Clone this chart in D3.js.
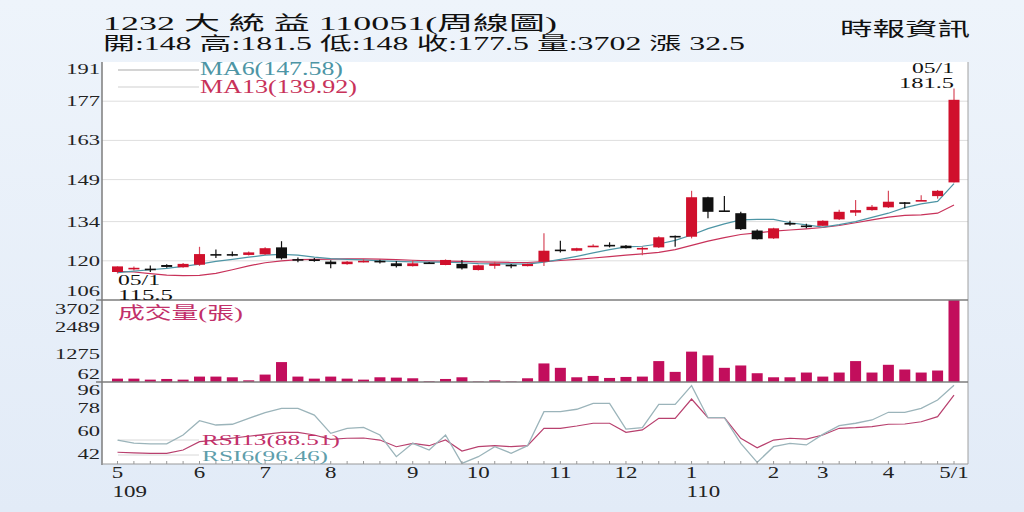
<!DOCTYPE html>
<html>
<head>
<meta charset="utf-8">
<script src="https://cdn.jsdelivr.net/npm/d3@7"></script>
<style>
html, body { margin: 0; padding: 0; background: #e9f1fa; }
svg { display: block; }
text { font-family: "Liberation Serif", "DejaVu Serif", "Noto Sans CJK TC", serif; }
</style>
</head>
<body>
<svg id="chart" width="1024" height="512"></svg>
<script>
// 週K (109/05 ~ 110/05)
const weeks = [
	'109/05/1','109/05/2','109/05/3','109/05/4','109/05/5','109/06/1','109/06/2','109/06/3','109/06/4',
	'109/07/1','109/07/2','109/07/3','109/07/4','109/08/1','109/08/2','109/08/3','109/08/4','109/08/5',
	'109/09/1','109/09/2','109/09/3','109/09/4','109/10/1','109/10/2','109/10/3','109/10/4','109/10/5',
	'109/11/1','109/11/2','109/11/3','109/11/4','109/12/1','109/12/2','109/12/3','109/12/4',
	'110/01/1','110/01/2','110/01/3','110/01/4','110/01/5','110/02/1','110/02/2','110/02/3',
	'110/03/1','110/03/2','110/03/3','110/03/4','110/04/1','110/04/2','110/04/3','110/04/4','110/05/1'
];
const opens = [
	116.0,117.2,117.2,118.5,117.7,118.6,122.4,122.4,122.1,122.3,
	124.8,120.6,120.5,119.7,118.8,119.9,120.0,119.1,118.1,119.4,
	118.5,118.9,116.7,118.2,118.6,118.1,119.7,124.0,123.6,125.2,
	125.7,125.4,124.4,124.8,128.9,128.6,142.7,138.0,137.0,130.8,
	128.0,133.5,132.6,132.5,134.8,137.2,138.1,139.1,140.9,141.6,
	143.1,148.0
];
const highs = [
	118.0,118.0,118.3,118.8,119.2,125.0,124.0,123.3,123.3,124.8,
	127.0,121.2,121.0,120.2,119.9,120.6,120.4,119.9,120.3,119.6,
	120.5,120.3,118.6,119.7,118.9,119.0,129.8,127.2,124.7,125.9,
	126.6,125.6,125.0,128.8,129.0,145.0,142.9,143.1,137.5,131.2,
	131.8,134.3,133.2,134.5,138.2,141.7,139.9,145.0,141.0,143.4,
	145.3,181.5
];
const lows = [
	115.5,116.5,116.0,117.5,117.5,118.2,121.0,121.6,121.9,122.1,
	120.5,119.5,119.7,117.3,118.6,119.4,119.0,117.6,118.0,118.9,
	118.4,116.9,116.5,117.2,117.3,118.0,118.1,123.0,123.4,124.9,
	124.8,124.4,122.0,124.6,125.0,128.0,135.2,137.5,131.0,127.6,
	127.8,132.5,131.6,132.3,134.6,136.0,137.9,138.9,138.8,141.4,
	142.2,148.0
];
const closes = [
	118.0,117.5,117.0,117.8,118.9,122.4,122.2,122.3,123.0,124.5,
	120.9,120.5,120.4,118.8,119.7,120.0,119.8,118.1,119.1,119.3,
	120.3,117.3,118.4,119.0,118.5,118.9,123.6,123.9,124.5,125.4,
	125.6,124.5,124.6,128.4,128.8,142.7,137.5,137.9,131.3,127.7,
	131.6,133.4,132.5,134.3,137.5,138.1,139.3,141.1,140.8,141.7,
	145.0,177.5
];
const ma6 = [
	115.8,116.3,116.8,117.3,118.0,118.8,119.8,120.5,121.3,122.0,
	122.3,122.0,121.3,120.8,120.5,120.3,120.0,119.8,119.6,119.5,
	119.5,119.3,119.0,118.9,118.9,118.8,119.5,120.5,121.6,122.8,
	124.0,125.0,125.2,126.0,127.3,129.2,131.5,133.2,134.6,134.8,
	134.8,133.6,132.8,132.0,132.9,134.0,135.5,137.0,139.0,140.3,
	141.2,147.58
];
const ma13 = [
	116.2,116.0,115.4,114.9,114.7,114.8,115.5,116.8,118.2,119.3,
	120.0,120.4,120.5,120.6,120.7,120.7,120.6,120.4,120.2,120.0,
	119.9,119.8,119.6,119.5,119.4,119.4,119.7,120.1,120.5,121.0,
	121.5,122.0,122.5,123.0,124.0,125.5,127.0,128.3,129.4,130.0,
	130.6,131.0,131.4,131.9,132.6,133.6,134.6,135.6,136.2,136.4,
	137.0,139.92
];
const volumes = [
	152,152,107,137,107,244,244,213,76,335,
	899,244,152,244,152,107,213,198,168,30,
	137,213,20,76,20,168,838,640,213,274,
	183,228,244,944,457,1371,1203,640,746,396,
	213,213,427,244,427,944,427,777,564,427,
	518,3702
];
const rsi6 = [
	53.0,50.5,50.0,50.0,57.0,68.3,64.9,65.5,70.2,74.7,
	78.1,78.1,72.8,58.3,62.3,63.0,57.0,39.8,50.4,45.1,
	57.0,34.5,39.8,47.7,42.5,48.5,75.5,75.5,77.4,82.1,
	82.1,61.7,62.8,81.3,81.3,96.1,70.7,70.7,50.4,35.3,
	47.7,50.4,49.1,57.5,64.4,66.3,68.9,75.0,75.0,78.1,
	84.7,96.46
];
const rsi13 = [
	43.3,42.8,42.5,42.5,45.1,51.7,53.0,54.5,56.0,57.5,
	59.0,59.0,57.0,53.5,54.4,54.6,53.0,47.7,50.4,48.5,
	53.0,44.3,47.7,48.5,47.7,48.5,62.3,62.3,64.1,66.3,
	66.3,59.1,61.0,70.2,70.2,85.5,70.7,70.7,54.4,46.9,
	53.0,54.4,53.7,57.0,62.3,62.8,63.6,65.5,65.7,67.5,
	71.5,88.51
];
const monthLabels = ['5','6','7','8','9','10','11','12','1','2','3','4','5/1'];
const yearWeeks = ['109/05/1','110/01/1'];
const yearLabels = ['109','110'];
const priceTicks = [106,120,134,149,163,177,191];
const volTicks = [62,1275,2489,3702];
const rsiTicks = [42,60,78,96];

const W = 1024, H = 512;
const L = 102, R = 968;
const pTop = 62, pBot = 300, vBot = 382, rBot = 464;
const UP = '#d0102c', DOWN = '#111';

const svg = d3.select('#chart');

// 배경
const defs = svg.append('defs');
const grad = defs.append('linearGradient').attr('id', 'bg')
	.attr('x1', 0).attr('y1', 0).attr('x2', 0).attr('y2', 1);
grad.append('stop').attr('offset', '0%').attr('stop-color', '#eef4fb');
grad.append('stop').attr('offset', '100%').attr('stop-color', '#e2ebf7');
svg.append('rect').attr('width', W).attr('height', H).attr('fill', 'url(#bg)');
svg.append('rect').attr('x', L).attr('y', pTop).attr('width', R - L).attr('height', rBot - pTop).attr('fill', '#fff');

// scales
const x = d3.scalePoint().domain(weeks).range([117.5, 954]);
const yP = d3.scaleLinear().domain([106, 191]).range([pBot, pTop]);
const yV = d3.scaleLinear().domain([0, 3702]).range([vBot, pBot]);
const yR = d3.scaleLinear().domain([34, 99]).range([rBot, vBot]);

// grid
svg.append('g').selectAll('line').data(priceTicks.slice(1, -1)).join('line')
	.attr('x1', L).attr('x2', R)
	.attr('y1', d => yP(d)).attr('y2', d => yP(d))
	.attr('stroke', '#dedede').attr('stroke-width', 1);

// y labels (clamped in panel)
function tickText(ticks, scale, top, bot, padTop, padBot) {
	svg.append('g').selectAll('text').data(ticks).join('text')
		.attr('transform', d => {
			const y = Math.max(top + padTop, Math.min(bot - padBot, scale(d)));
			return 'translate(100,' + (y + 5) + ') scale(1.5,1)';
		})
		.attr('text-anchor', 'end')
		.attr('font-size', 15)
		.attr('fill', '#222')
		.text(d => d);
}
tickText(priceTicks, yP, pTop, pBot, 7, 9);
tickText(volTicks, yV, pBot, vBot, 9, 8);
tickText(rsiTicks, yR, vBot, rBot, 8, 8);

// 레전드 선
const legendLines = [
	{ y: 70, c: '#a9a9a9' }, { y: 87, c: '#cfcfcf' },
	{ y: 440, c: '#d8d8d8' }, { y: 455, c: '#d8d8d8' }
];
svg.append('g').selectAll('line').data(legendLines).join('line')
	.attr('x1', 118).attr('x2', 199)
	.attr('y1', d => d.y).attr('y2', d => d.y)
	.attr('stroke', d => d.c);

// MA lines
const lineP = d3.line().x((d, i) => x(weeks[i])).y(d => yP(d));
svg.append('path').attr('d', lineP(ma13)).attr('fill', 'none').attr('stroke', '#c8325a').attr('stroke-width', 1.2);
svg.append('path').attr('d', lineP(ma6)).attr('fill', 'none').attr('stroke', '#4d95a5').attr('stroke-width', 1.2);

// candles
const candles = weeks.map((w, i) => ({ w: w, o: opens[i], h: highs[i], l: lows[i], c: closes[i] }));
const isUp = d => d.c >= d.o;
const cg = svg.append('g');
cg.selectAll('line').data(candles).join('line')
	.attr('x1', d => x(d.w)).attr('x2', d => x(d.w))
	.attr('y1', d => yP(d.h)).attr('y2', d => yP(d.l))
	.attr('stroke', d => isUp(d) ? '#d84a5c' : DOWN)
	.attr('stroke-width', 1.2);
cg.selectAll('rect').data(candles).join('rect')
	.attr('x', d => x(d.w) - 5.5).attr('width', 11)
	.attr('y', d => yP(Math.max(d.o, d.c)))
	.attr('height', d => Math.max(1.6, Math.abs(yP(d.o) - yP(d.c))))
	.attr('fill', d => isUp(d) ? UP : DOWN);

// volume
svg.append('g').selectAll('rect').data(volumes).join('rect')
	.attr('x', (d, i) => x(weeks[i]) - 5.5).attr('width', 11)
	.attr('y', d => yV(d)).attr('height', d => vBot - yV(d))
	.attr('fill', '#c20e5c');

// RSI
const lineR = d3.line().x((d, i) => x(weeks[i])).y(d => yR(d));
svg.append('path').attr('d', lineR(rsi13)).attr('fill', 'none').attr('stroke', '#b8406e').attr('stroke-width', 1.2);
svg.append('path').attr('d', lineR(rsi6)).attr('fill', 'none').attr('stroke', '#9bb4ba').attr('stroke-width', 1.3);

// frame
const frame = svg.append('g').attr('stroke', '#7d7d7d');
frame.append('line').attr('x1', L).attr('x2', L).attr('y1', pTop).attr('y2', rBot + 1).attr('stroke-width', 1.5);
frame.append('line').attr('x1', R).attr('x2', R).attr('y1', pTop).attr('y2', rBot).attr('stroke', '#a0a0a0');
frame.append('line').attr('x1', 96).attr('x2', R).attr('y1', pBot).attr('y2', pBot).attr('stroke-width', 1.5);
frame.append('line').attr('x1', 96).attr('x2', R).attr('y1', vBot).attr('y2', vBot).attr('stroke-width', 1.5);
frame.append('line').attr('x1', L).attr('x2', R).attr('y1', rBot).attr('y2', rBot).attr('stroke', '#999');
frame.append('g').selectAll('line').data(weeks).join('line')
	.attr('x1', d => x(d)).attr('x2', d => x(d))
	.attr('y1', rBot - 3).attr('y2', rBot)
	.attr('stroke', '#999');

// x labels
const monthWeeks = weeks.filter(w => w.endsWith('/1'));
svg.append('g').selectAll('text').data(monthWeeks).join('text')
	.attr('transform', d => 'translate(' + x(d) + ',478) scale(1.35,1)')
	.attr('text-anchor', 'middle').attr('font-size', 17).attr('fill', '#222')
	.text((d, i) => monthLabels[i]);
svg.append('g').selectAll('text').data(yearWeeks).join('text')
	.attr('transform', d => 'translate(' + (x(d) - 5) + ',497) scale(1.35,1)')
	.attr('font-size', 17).attr('fill', '#222')
	.text((d, i) => yearLabels[i]);

// 텍스트
function label(x0, y0, str, size, color, len, anchor) {
	const t = svg.append('text')
		.attr('x', x0).attr('y', y0)
		.attr('font-size', size)
		.attr('fill', color)
		.text(str);
	if (len) t.attr('textLength', len).attr('lengthAdjust', 'spacingAndGlyphs');
	if (anchor) t.attr('text-anchor', anchor);
	return t;
}
label(103, 30, '1232  大 統 益 110051(周線圖)', 19, '#111', 454);
label(103, 50, '開:148 高:181.5 低:148 收:177.5 量:3702 漲 32.5', 18, '#111', 642);
label(840, 36, '時報資訊', 19, '#111', 130);

label(200, 75, 'MA6(147.58)', 18, '#4d95a5', 143);
label(200, 93, 'MA13(139.92)', 18, '#c8325a', 157);
label(202, 445, 'RSI13(88.51)', 15.5, '#c2306a', 138);
label(202, 461, 'RSI6(96.46)', 15.5, '#5f9eab', 126);
label(118, 319, '成交量(張)', 17, '#c2306a', 125);

// 최고/최저 표시
const hiIdx = highs.indexOf(d3.max(highs));
const loIdx = lows.indexOf(d3.min(lows));
label(954, 73, '05/1', 14.5, '#111', 42, 'end');
label(954, 88, String(highs[hiIdx]), 14.5, '#111', 55, 'end');
label(118, 285, '05/1', 14.5, '#111', 42);
label(118, 300, String(lows[loIdx]), 14.5, '#111', 55);
</script>
</body>
</html>
